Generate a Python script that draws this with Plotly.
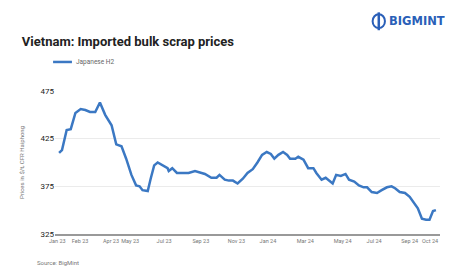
import plotly.graph_objects as go

dates = [
    "2023-01-04", "2023-01-09", "2023-01-17", "2023-01-24", "2023-02-01", "2023-02-10",
    "2023-02-18", "2023-02-26", "2023-03-07", "2023-03-15", "2023-03-24", "2023-04-04",
    "2023-04-12", "2023-04-21", "2023-04-29", "2023-05-08", "2023-05-16", "2023-05-22",
    "2023-05-27", "2023-06-05", "2023-06-10", "2023-06-16", "2023-06-22", "2023-06-30",
    "2023-07-09", "2023-07-11", "2023-07-17", "2023-07-25", "2023-08-03", "2023-08-14",
    "2023-08-25", "2023-09-05", "2023-09-11", "2023-09-22", "2023-10-01", "2023-10-06",
    "2023-10-15", "2023-10-22", "2023-10-29", "2023-11-06", "2023-11-15", "2023-11-23",
    "2023-12-02", "2023-12-10", "2023-12-18", "2023-12-26", "2024-01-02", "2024-01-08",
    "2024-01-15", "2024-01-23", "2024-01-30", "2024-02-04", "2024-02-13", "2024-02-18",
    "2024-02-27", "2024-03-06", "2024-03-15", "2024-03-20", "2024-03-29", "2024-04-05",
    "2024-04-12", "2024-04-17", "2024-04-23", "2024-05-01", "2024-05-09", "2024-05-15",
    "2024-05-24", "2024-06-01", "2024-06-09", "2024-06-15", "2024-06-23", "2024-07-02",
    "2024-07-10", "2024-07-19", "2024-07-27", "2024-08-02", "2024-08-10", "2024-08-19",
    "2024-08-27", "2024-09-04", "2024-09-10", "2024-09-17", "2024-09-24", "2024-09-30",
    "2024-10-06", "2024-10-11",
]
prices = [
    410, 413, 434, 435, 452, 456,
    455, 453, 453, 463, 450, 439,
    419, 417, 404, 387, 376, 375,
    371, 370, 383, 397, 400, 397,
    394, 391, 394, 389, 389, 389,
    391, 389, 388, 384, 384, 387,
    382, 381, 381, 378, 383, 389,
    393, 400, 408, 411, 409, 404,
    408, 411, 408, 404, 404, 406,
    403, 394, 394, 389, 382, 384,
    380, 378, 387, 386, 388, 382,
    380, 376, 374, 374, 369, 368,
    371, 374, 375, 373, 369, 368,
    364, 357, 352, 341, 340, 340,
    349, 350,
]

tick_dates = ["2023-01-01", "2023-02-09", "2023-04-03", "2023-05-06", "2023-07-03",
              "2023-09-04", "2023-11-04", "2023-12-28", "2024-03-01", "2024-05-04",
              "2024-06-27", "2024-08-27", "2024-10-01"]
tick_labels = ["Jan 23", "Feb 23", "Apr 23", "May 23", "Jul 23", "Sep 23", "Nov 23",
               "Jan 24", "Mar 24", "May 24", "Jul 24", "Sep 24", "Oct 24"]
y_ticks = [325, 375, 425, 475]

BLUE = "#3b78c3"

fig = go.Figure()
fig.add_trace(go.Scatter(
    x=dates, y=prices, mode="lines", name="Japanese H2",
    line=dict(color=BLUE, width=2.5),
))

# page body has an 8px default margin, so the figure is 8px smaller and offset
fig.update_layout(
    width=445, height=259,
    margin=dict(l=47, r=13, t=83, b=33, autoexpand=False),
    paper_bgcolor="white", plot_bgcolor="white",
    font=dict(family="Roboto, Arial, sans-serif", color="#333"),
    showlegend=False,
    title=dict(text="<b>Vietnam: Imported bulk scrap prices</b>", x=0.031, xanchor="left",
               y=0.87, yanchor="middle", xref="container", yref="container",
               font=dict(size=13, color="#222", family="Roboto, Arial, sans-serif")),
    xaxis=dict(
        type="date", range=["2022-12-28", "2024-10-18"],
        tickvals=tick_dates, ticktext=tick_labels, tickangle=0,
        tickfont=dict(size=5.5, color="#777"),
        showgrid=False, showline=True, linecolor="#999", linewidth=2,
        ticks="", zeroline=False,
    ),
    yaxis=dict(
        range=[325, 475], tickvals=y_ticks,
        tickfont=dict(size=8, color="#222", family="Roboto, Arial, sans-serif"),
        showgrid=True, gridcolor="#ebebeb", gridwidth=1,
        zeroline=False, showline=False, ticks="",
        title=dict(text="Prices in $/t, CFR Haiphong", font=dict(size=6, color="#777"),
                   standoff=15),
    ),
)

# legend drawn manually
fig.add_shape(type="line", xref="paper", yref="paper", x0=-0.005, x1=0.044,
              y0=1.203, y1=1.203, line=dict(color=BLUE, width=2.5))
fig.add_annotation(text="Japanese H2", xref="paper", yref="paper", x=0.050, y=1.203,
                   xanchor="left", yanchor="middle", showarrow=False,
                   font=dict(size=6.5, color="#666"))

fig.add_annotation(text="Source: BigMint", xref="paper", yref="paper", x=-0.052, y=-0.196,
                   xanchor="left", yanchor="middle", showarrow=False,
                   font=dict(size=6, color="#777"))
fig.add_annotation(text="<b>BIGMINT</b>", xref="paper", yref="paper",
                   x=0.862, y=1.49, xanchor="left", yanchor="middle", showarrow=False,
                   font=dict(size=11.5, color="#2a5fb8", family="DejaVu Sans"))
fig.add_shape(type="circle", xref="paper", yref="paper",
              x0=0.825, x1=0.857, y0=1.44, y1=1.537,
              line=dict(color="#2a5fb8", width=2), fillcolor="white")
fig.add_shape(type="line", xref="paper", yref="paper",
              x0=0.841, x1=0.841, y0=1.425, y1=1.55,
              line=dict(color="#2a5fb8", width=2.5))

fig.write_html("out.html")
